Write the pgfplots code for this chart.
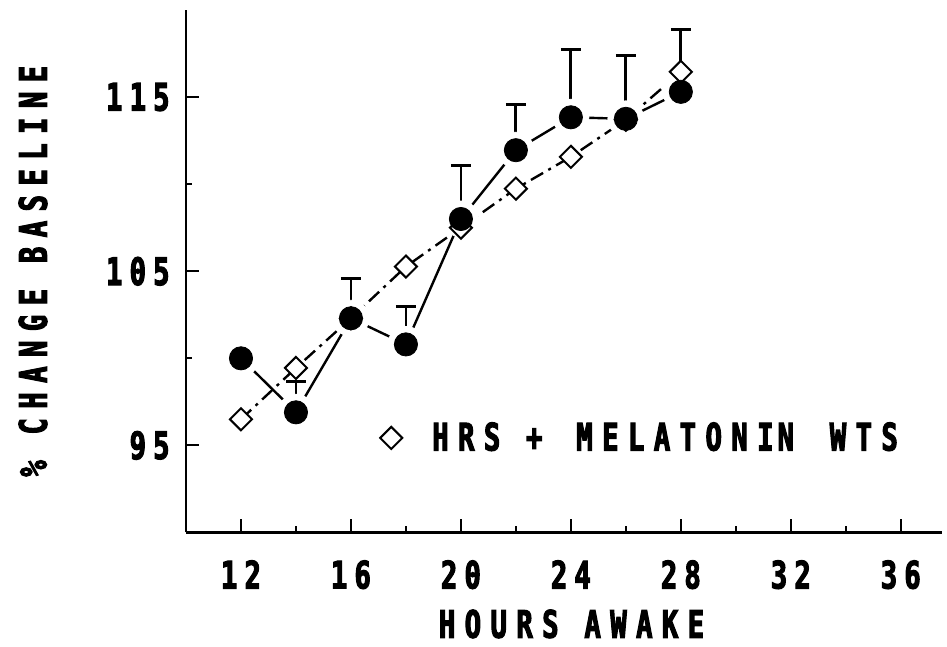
\documentclass[border=0pt]{standalone}
\usepackage{fontspec}
\usepackage{pgfplots}
\usepackage{pgfplotstable}
\pgfplotsset{compat=1.18}
\newfontfamily\cf{DejaVu Sans Mono}[FakeStretch=0.72, LetterSpace=25, FakeBold=3]
\newfontfamily\cft{DejaVu Sans Mono}[FakeStretch=0.72, LetterSpace=19, FakeBold=3]
\newcommand\cfs{\cf\bfseries\fontsize{18.9}{22}\selectfont}
\newcommand\cfts{\cft\bfseries\fontsize{18.9}{22}\selectfont}

\pgfplotstableread{
x  y      e
12 100.0  0
14 96.9   1.76
16 102.3  2.3
18 100.8  2.16
20 108.0  3.05
22 111.95 2.63
24 113.84 3.9
26 113.75 3.65
28 115.3  3.6
}\circdata

\pgfplotstableread{
x  y
12 96.5
14 99.45
16 102.3
18 105.27
20 107.5
22 109.74
24 111.57
26 113.7
28 116.45
}\diadata

\begin{document}
\begin{tikzpicture}
\begin{axis}[
  name=ax,
  scale only axis,
  width=378pt, height=261.25pt,
  xmin=10, xmax=37.5, ymin=90, ymax=120,
  axis lines=left,
  axis line style={-, line width=1.3pt},
  tick align=inside,
  major tick length=6.5pt, minor tick length=3pt,
  tick style={line width=1pt, black},
  xtick={12,16,20,24,28,32,36},
  minor xtick={14,18,22,26,30,34},
  ytick={95,105,115},
  minor ytick={100,110},
  xticklabels={12,16,20,24,28,32,36},
  yticklabels={95,105,115},
  xticklabel style={font=\cfts, anchor=north, inner sep=0pt, yshift=-13.75pt},
  yticklabel style={font=\cfts, anchor=east, inner sep=0pt, xshift=-8pt},
  xlabel={HOURS AWAKE},
  xlabel style={font=\cfs, at={(axis description cs:0.51,-0.175)}, anchor=center, inner sep=0pt},
  ylabel={\% CHANGE BASELINE},
  ylabel style={font=\cfs, at={(axis description cs:-0.2024,0.5)}, anchor=center, inner sep=0pt},
  legend style={at={(axis cs:17.05,95.43)}, anchor=west, draw=none, fill=none, font=\cfs, inner sep=0pt},
  legend cell align=left,
  clip=false,
]
\addlegendimage{only marks, mark=square*, mark size=3.9pt, mark options={rotate=45, fill=white, draw=black, line width=1pt}}
\addlegendentry{\hspace{13pt}HRS + \hspace{4pt}MELATONI\hspace{2pt}N \hspace{5pt}WTS}

% circle series line
\addplot[forget plot, black, line width=1.2pt] table[x=x, y=y] {\circdata};
% white gaps around the circles
\addplot[forget plot, only marks, mark=*, mark size=9pt, mark options={draw=white, fill=white}] table[x=x, y=y] {\circdata};
% diamond series
\addplot[forget plot, black, line width=1.2pt, dash pattern=on 7pt off 3pt on 1.5pt off 3pt,
  mark=square*, mark size=3.9pt, mark options={solid, rotate=45, fill=white, draw=black, line width=1pt}]
  table[x=x, y=y] {\diadata};
% filled circles with upper error bars
\addplot[forget plot, black, only marks, mark=*, mark size=5.8pt,
  error bars/.cd, y dir=plus, y explicit,
  error bar style={line width=1.4pt, black},
  error mark options={rotate=90, mark size=5pt, line width=1.4pt, black}]
  table[x=x, y=y, y error=e] {\circdata};
\end{axis}
\pgfresetboundingbox
\path[use as bounding box] ([xshift=-93pt, yshift=-57.25pt]ax.south west) rectangle ([xshift=2.5pt, yshift=5pt]ax.north east);
\end{tikzpicture}
\end{document}
